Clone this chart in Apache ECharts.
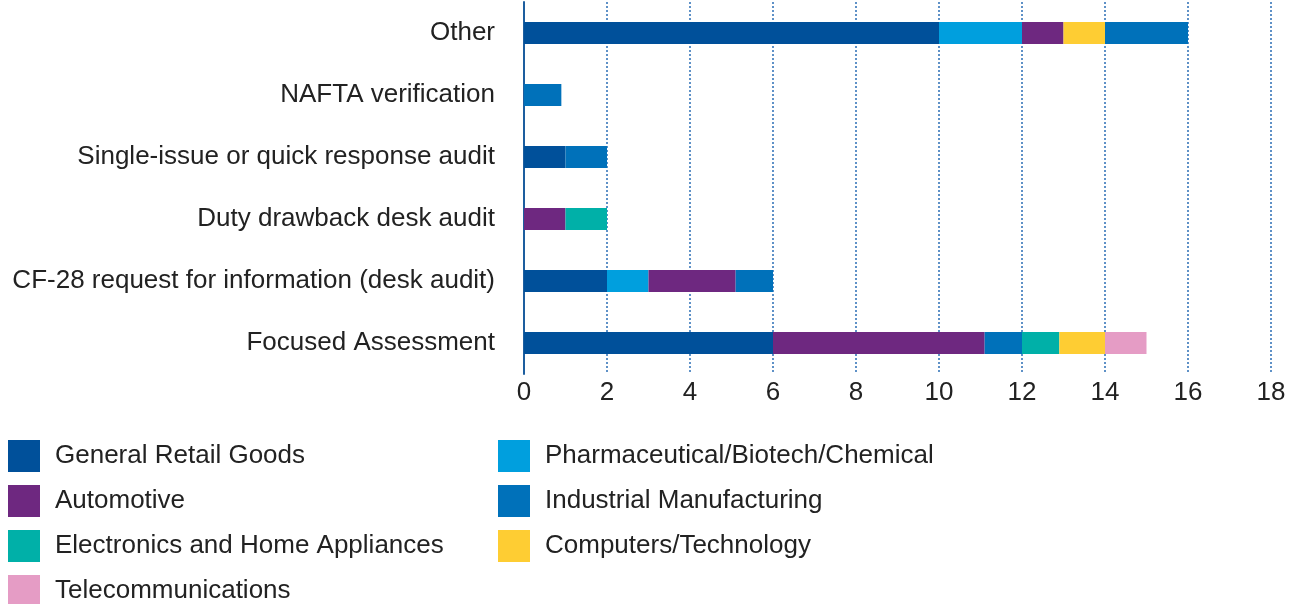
<!DOCTYPE html>
<html>
<head>
<meta charset="utf-8">
<script src="https://cdn.jsdelivr.net/npm/echarts@6/dist/echarts.min.js"></script>
<style>
    html, body { margin: 0; padding: 0; background: #fff; }
    #chart { width: 1290px; height: 604px; }
</style>
</head>
<body>
<div id="chart"></div>
<script>
    // categories, top to bottom
    let categories = ["Other", "NAFTA verification", "Single-issue or quick response audit",
        "Duty drawback desk audit", "CF-28 request for information (desk audit)", "Focused Assessment"]

    let generalRetail = [10, 0, 1, 0, 2, 6]
    let pharma        = [2, 0, 0, 0, 1, 0]
    let automotive    = [1, 0, 0, 1, 2.1, 5.1]
    let industrial    = [2, 0.9, 1, 0, 0.9, 0.9]
    let electronics   = [0, 0, 0, 1, 0, 0.9]
    let computers     = [1, 0, 0, 0, 0, 1.1]
    let telecom       = [0, 0, 0, 0, 0, 1]

    // on these bars industrial sits at the end of the stack
    let industrialOnTop = ["Other"]

    let xTicks = [0, 2, 4, 6, 8, 10, 12, 14, 16, 18]

    let colors = {
        general: "#00509a",
        pharma: "#009fde",
        auto: "#6e2880",
        industrial: "#0071ba",
        electronics: "#00b0a8",
        computers: "#fecd33",
        telecom: "#e59cc5"
    }

    let font = "'Liberation Sans', Arial, sans-serif"

    function bar (name, data, color){
        return {
            name, type: "bar", stack: "total", barWidth: 22,
            data, itemStyle: { color }
        }
    }

    let industralInside = industrial.map((v, i) => industrialOnTop.includes(categories[i]) ? 0 : v)
    let industralLast   = industrial.map((v, i) => industrialOnTop.includes(categories[i]) ? v : 0)

    let series = [
        bar("General Retail Goods", generalRetail, colors.general),
        bar("Pharmaceutical/Biotech/Chemical", pharma, colors.pharma),
        bar("Automotive", automotive, colors.auto),
        bar("Industrial Manufacturing", industralInside, colors.industrial),
        bar("Electronics and Home Appliances", electronics, colors.electronics),
        bar("Computers/Technology", computers, colors.computers),
        bar("Industrial Manufacturing", industralLast, colors.industrial),
        bar("Telecommunications", telecom, colors.telecom)
    ]

    let legendBase = {
        orient: "vertical",
        top: 435,
        height: 200,
        icon: "rect",
        itemWidth: 32,
        itemHeight: 32,
        itemGap: 13,
        selectedMode: false,
        textStyle: { fontSize: 26, color: "#222", fontFamily: font, padding: [0, 0, 0, 10] }
    }

    let chart = echarts.init(document.getElementById("chart"))
    chart.setOption({
        animation: false,
        textStyle: { fontFamily: font },
        grid: { left: 524, right: 19, top: 2, height: 372, containLabel: false },
        legend: [
            Object.assign({}, legendBase, {
                left: 3,
                data: ["General Retail Goods", "Automotive", "Electronics and Home Appliances", "Telecommunications"]
            }),
            Object.assign({}, legendBase, {
                left: 493,
                data: ["Pharmaceutical/Biotech/Chemical", "Industrial Manufacturing", "Computers/Technology"]
            })
        ],
        xAxis: {
            type: "value",
            min: xTicks[0],
            max: xTicks[xTicks.length - 1],
            interval: 2,
            axisLine: { show: false },
            axisTick: { show: false },
            axisLabel: { fontSize: 26, color: "#222", margin: 6, fontFamily: font },
            splitLine: { show: true, lineStyle: { color: "#2a6db5", width: 1.5, type: [2, 2] } }
        },
        yAxis: {
            type: "category",
            data: categories,
            inverse: true,
            axisLine: { show: true, lineStyle: { color: "#1d5e9f", width: 2 } },
            axisTick: { show: false },
            axisLabel: { fontSize: 26, color: "#222", margin: 29, fontFamily: font }
        },
        series
    })
</script>
</body>
</html>
